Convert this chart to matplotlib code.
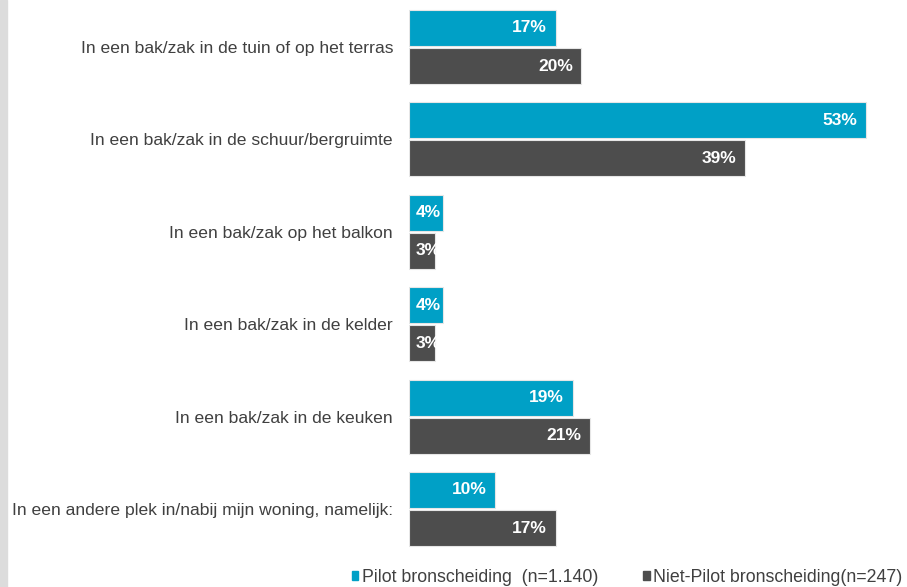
import numpy as np
import matplotlib
matplotlib.use('Agg')
import matplotlib.pyplot as plt
from matplotlib.patches import Patch, Rectangle

plt.rcParams['font.family'] = ['Liberation Sans', 'DejaVu Sans']

categories = ['In een bak/zak in de tuin of op het terras',
              'In een bak/zak in de schuur/bergruimte',
              'In een bak/zak op het balkon',
              'In een bak/zak in de kelder',
              'In een bak/zak in de keuken',
              'In een andere plek in/nabij mijn woning, namelijk:']
pilot = [17, 53, 4, 4, 19, 10]
niet_pilot = [20, 39, 3, 3, 21, 17]
series_names = ['Pilot bronscheiding  (n=1.140)', 'Niet-Pilot bronscheiding(n=247)']

cyan = '#00A0C6'
dark = '#4D4D4D'
txt = '#404040'

fig = plt.figure(figsize=(9.07, 5.87), dpi=100)
ax = fig.add_axes([409/907, 1-555.2/587, (57*8.62)/907, (555.2-0.8)/587])

# grey strip at the left edge
fig.patches.append(Rectangle((0, 0), 7/907, 1, transform=fig.transFigure,
                             color='#DCDCDC', zorder=0))

y = np.arange(len(categories))
h = 0.39
off = 0.206
b1 = ax.barh(y - off, pilot, height=h, color=cyan, edgecolor='#E6E6E6', linewidth=0.8)
b2 = ax.barh(y + off, niet_pilot, height=h, color=dark, edgecolor='#E6E6E6', linewidth=0.8)

# labels inside the bar end; narrow bars get the label at the start (clipped)
for bars, vals in ((b1, pilot), (b2, niet_pilot)):
    for bar, v in zip(bars, vals):
        yc = bar.get_y() + bar.get_height()/2
        if v >= 6:
            t = ax.text(v - 1.0, yc, f'{v}%', ha='right', va='center',
                        color='white', fontsize=12.5, fontweight='bold')
        else:
            t = ax.text(0.8, yc, f'{v}%', ha='left', va='center',
                        color='white', fontsize=12.5, fontweight='bold')
        t.set_clip_path(bar)

ax.set_xlim(0, 57)
ax.set_ylim(len(categories) - 0.5, -0.5)
ax.set_yticks(y)
ax.set_yticklabels(categories, fontsize=12.6, color=txt)
ax.tick_params(axis='y', length=0, pad=11.5)
ax.set_xticks([])
for s in ax.spines.values():
    s.set_visible(False)

handles = [Patch(color=cyan), Patch(color=dark)]
fig.legend(handles, series_names, loc='center', bbox_to_anchor=(627/907, 1-577/587),
           ncol=2, frameon=False, fontsize=12.8, handlelength=0.38, handleheight=0.38,
           handletextpad=0.2, columnspacing=2.5, labelcolor=txt,
           borderpad=0, borderaxespad=0)

fig.savefig('out.png', dpi=100)
